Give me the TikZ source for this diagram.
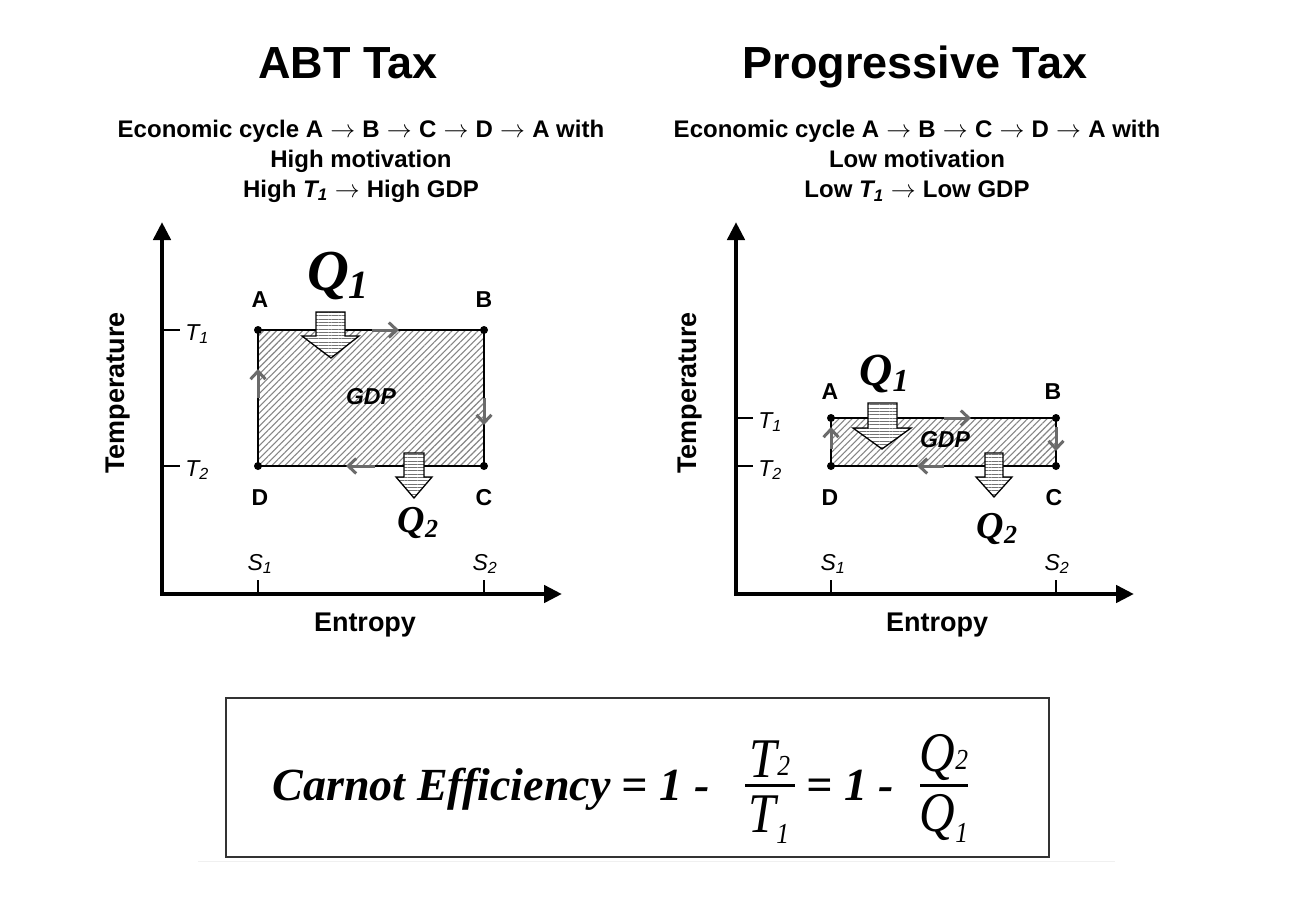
\documentclass[tikz,border=0pt]{standalone}
\usepackage{fontspec}
\setmainfont{Liberation Sans}
\newfontfamily\tnr{Liberation Serif}
\usetikzlibrary{arrows.meta,patterns.meta}
\newcommand\tto{\hspace{0.3em}$\rightarrow$\hspace{0.3em}}
\newcommand\fracpart[2]{\scalebox{0.88}[1]{#1\raisebox{#2}{\fontsize{29}{29}\selectfont\kern0.03em}}}
\begin{document}
\begin{tikzpicture}[x=1pt,y=-1pt,
  ttl/.style={font=\bfseries\fontsize{45}{50}\selectfont,anchor=base},
  sub/.style={font=\bfseries\fontsize{24}{30}\selectfont,align=center},
  axlbl/.style={font=\bfseries\fontsize{27}{30}\selectfont},
  ptlbl/.style={font=\bfseries\fontsize{23}{28}\selectfont},
  tklbl/.style={font=\itshape\fontsize{23}{28}\selectfont},
  gdp/.style={font=\bfseries\itshape\fontsize{23}{28}\selectfont},
  qbig/.style={font=\tnr\bfseries\itshape\fontsize{#1}{#1}\selectfont},
  axis/.style={line width=4.5pt,line join=miter,{Triangle[length=18pt,width=17pt]}-{Triangle[length=18pt,width=17pt]}},
  tick/.style={line width=2pt},
  cyc/.style={draw=black,line width=2pt,preaction={fill=white},pattern={Lines[angle=45,distance=4.6pt,line width=1.1pt]},pattern color=black!48},
  flow/.style={draw=black!58,line width=3pt,-{Straight Barb[length=8pt,width=15pt]}},
  heat/.style={draw=black,line width=1.3pt,line join=miter,preaction={fill=white},pattern={Lines[angle=0,distance=3.3pt,line width=1pt]},pattern color=black!55},
  dot/.style={fill=black},
  fbox/.style={draw=black!80,line width=1.5pt},
  frm/.style={font=\tnr\bfseries\itshape\fontsize{46}{50}\selectfont},
  frc/.style={font=\tnr\itshape\fontsize{56}{58}\selectfont,anchor=base,inner sep=0pt},
  fbar/.style={line width=3pt}
]
\useasboundingbox[fill=white] (0,0) rectangle (1304,900);

% ---------------- Left panel ----------------
\node[ttl] (titleL) at (348,78) {ABT Tax};
\node[sub] (subL) at (361,161) {Economic cycle A\tto B\tto C\tto D\tto A with\\High motivation\\High \textit{T\textsubscript{1}}\tto High GDP};

\coordinate (LO) at (162,594);
\coordinate (LY) at (162,222);
\coordinate (LX) at (562,594);
\draw[axis] (LY) -- (LO) -- (LX);

\coordinate (LA) at (258,330);
\coordinate (LB) at (484,330);
\coordinate (LC) at (484,466);
\coordinate (LD) at (258,466);
\path[cyc] (LA) rectangle (LC);

\draw[tick] (162,330) -- (180,330);
\draw[tick] (162,466) -- (180,466);
\draw[tick] (258,594) -- (258,580);
\draw[tick] (484,594) -- (484,580);
\node[tklbl] (LT1) at (197,334) {T\textsubscript{1}};
\node[tklbl] (LT2) at (197,470) {T\textsubscript{2}};
\node[tklbl] (LS1) at (260,564) {S\textsubscript{1}};
\node[tklbl] (LS2) at (485,564) {S\textsubscript{2}};

\foreach \p in {LA,LB,LC,LD} \fill[dot] (\p) circle (4);

\draw[flow] (372,330) -- (399,330);
\draw[flow] (484,398) -- (484,425);
\draw[flow] (375,466) -- (346,466);
\draw[flow] (258,398) -- (258,369);

\node[ptlbl] (LAl) at (260,300) {A};
\node[ptlbl] (LBl) at (484,300) {B};
\node[ptlbl] (LDl) at (260,498) {D};
\node[ptlbl] (LCl) at (484,498) {C};
\node[gdp] (LG) at (371,397) {GDP};

\path[heat] (316,312) -- (345,312) -- (345,336) -- (359,336) -- (331,358) -- (302,336) -- (316,336) -- cycle;
\path[heat] (404,453) -- (424,453) -- (424,477) -- (432,477) -- (414,498) -- (396,477) -- (404,477) -- cycle;
\node[qbig=58] (LQ1) at (338,276) {Q\raisebox{-0.14em}{\fontsize{40}{40}\selectfont 1}};
\node[qbig=38] (LQ2) at (418,523) {Q\raisebox{-0.14em}{\fontsize{26}{26}\selectfont 2}};

\node[axlbl,rotate=90] (LTemp) at (118,393) {Temperature};
\node[axlbl] (LEnt) at (365,625) {Entropy};

% ---------------- Right panel ----------------
\node[ttl] (titleR) at (915,78) {Progressive Tax};
\node[sub] (subR) at (917,161) {Economic cycle A\tto B\tto C\tto D\tto A with\\Low motivation\\Low \textit{T\textsubscript{1}}\tto Low GDP};

\coordinate (RO) at (736,594);
\coordinate (RY) at (736,222);
\coordinate (RX) at (1134,594);
\draw[axis] (RY) -- (RO) -- (RX);

\coordinate (RA) at (831,418);
\coordinate (RB) at (1056,418);
\coordinate (RC) at (1056,466);
\coordinate (RD) at (831,466);
\path[cyc] (RA) rectangle (RC);

\draw[tick] (736,418) -- (753,418);
\draw[tick] (736,466) -- (753,466);
\draw[tick] (831,594) -- (831,580);
\draw[tick] (1056,594) -- (1056,580);
\node[tklbl] (RT1) at (770,422) {T\textsubscript{1}};
\node[tklbl] (RT2) at (770,470) {T\textsubscript{2}};
\node[tklbl] (RS1) at (833,564) {S\textsubscript{1}};
\node[tklbl] (RS2) at (1057,564) {S\textsubscript{2}};

\foreach \p in {RA,RB,RC,RD} \fill[dot] (\p) circle (4);

\draw[flow] (944,418) -- (971,418);
\draw[flow] (1056,427) -- (1056,451);
\draw[flow] (944,466) -- (917,466);
\draw[flow] (831,449) -- (831,427);

\node[ptlbl] (RAl) at (830,392) {A};
\node[ptlbl] (RBl) at (1053,392) {B};
\node[ptlbl] (RDl) at (830,498) {D};
\node[ptlbl] (RCl) at (1054,498) {C};
\node[gdp] (RG) at (945,440) {GDP};

\path[heat] (868,403) -- (897,403) -- (897,428) -- (911,428) -- (882,449) -- (853,428) -- (868,428) -- cycle;
\path[heat] (985,453) -- (1003,453) -- (1003,477) -- (1012,477) -- (994,497) -- (976,477) -- (985,477) -- cycle;
\node[qbig=46] (RQ1) at (884,374) {Q\raisebox{-0.14em}{\fontsize{32}{32}\selectfont 1}};
\node[qbig=38] (RQ2) at (997,529) {Q\raisebox{-0.14em}{\fontsize{26}{26}\selectfont 2}};

\node[axlbl,rotate=90] (RTemp) at (690,393) {Temperature};
\node[axlbl] (REnt) at (937,625) {Entropy};

% ---------------- Formula ----------------
\draw[black!6,line width=1pt] (198,861) -- (1115,861);
\node[fbox,minimum width=823pt,minimum height=159pt] (box) at (637.5,777.5) {};
\node[frm,anchor=base east] (f1) at (713,800) {Carnot Efficiency = 1 -};
\node[frc] (n1) at (770,777) {\scalebox{0.88}[1]{T\raisebox{0.02em}{\fontsize{29}{29}\selectfont 2}}};
\node[frc] (d1) at (769,832) {\scalebox{0.88}[1]{T\raisebox{-0.2em}{\fontsize{29}{29}\selectfont 1}}};
\draw[fbar] (745,785) -- (795,785);
\node[frm,anchor=base west] (f2) at (803,800) {= 1 -};
\node[frc] (n2) at (944,771) {\scalebox{0.88}[1]{Q\raisebox{0.02em}{\fontsize{29}{29}\selectfont 2}}};
\node[frc] (d2) at (944,831) {\scalebox{0.88}[1]{Q\raisebox{-0.2em}{\fontsize{29}{29}\selectfont 1}}};
\draw[fbar] (920,785) -- (968,785);
\end{tikzpicture}
\end{document}
